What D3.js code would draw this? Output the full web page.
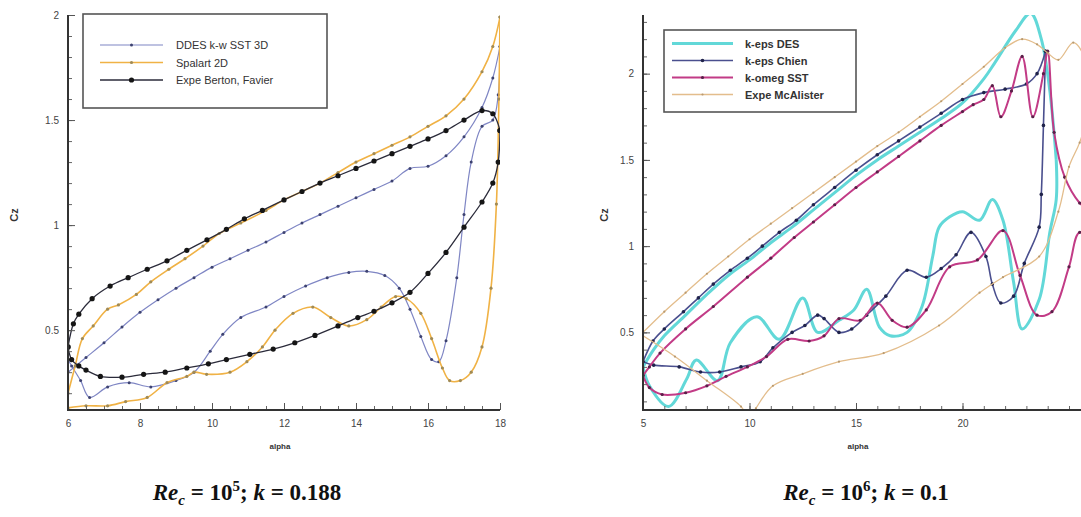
<!DOCTYPE html>
<html>
<head>
<meta charset="utf-8">
<script src="https://cdn.jsdelivr.net/npm/d3@7/dist/d3.min.js"></script>
<style>
  body { margin: 0; background: #fff; }
  svg { display: block; font-family: "Liberation Sans", Arial, sans-serif; }
</style>
</head>
<body>
<svg id="chart" width="1081" height="517"></svg>
<script>
// ---- left panel : Re = 1e5, k = 0.188 ----
const ddesUp = [[6,0.30],[6.5,0.37],[7,0.44],[7.5,0.515],[8,0.585],[8.5,0.645],[9,0.70],[9.5,0.75],[10,0.80],[10.5,0.84],[11,0.88],[11.5,0.92],[12,0.965],[12.5,1.01],[13,1.05],[13.5,1.09],[14,1.13],[14.5,1.17],[15,1.21],[15.5,1.27],[16,1.28],[16.5,1.33],[17,1.42],[17.5,1.56],[17.8,1.7],[18,1.85]];
const ddesDown = [[18,1.85],[17.95,1.62],[17.8,1.5],[17.5,1.47],[17.2,1.3],[17,1.05],[16.8,0.75],[16.5,0.45],[16.3,0.35],[16.1,0.36],[15.8,0.47],[15.5,0.6],[15.2,0.7],[14.8,0.76],[14.3,0.78],[13.8,0.775],[13.2,0.75],[12.6,0.71],[12,0.66],[11.5,0.61],[10.8,0.56],[10.3,0.48],[9.95,0.40],[9.5,0.30],[9,0.26],[8.3,0.23],[7.7,0.25],[7.1,0.23],[6.6,0.18],[6.35,0.26],[6.1,0.33],[6,0.36]];
const spalartUp = [[6,0.2],[6.2,0.33],[6.4,0.46],[6.7,0.52],[7.1,0.60],[7.4,0.62],[7.9,0.67],[8.3,0.73],[8.8,0.79],[9.25,0.84],[9.75,0.90],[10.2,0.96],[10.8,1.01],[11.5,1.07],[12,1.12],[12.5,1.16],[13,1.2],[13.5,1.25],[14,1.3],[14.5,1.34],[15,1.38],[15.5,1.42],[16,1.47],[16.5,1.52],[17,1.6],[17.5,1.73],[17.8,1.85],[18,1.99]];
const spalartDown = [[18,1.99],[17.97,1.6],[17.9,1.1],[17.75,0.7],[17.5,0.42],[17.2,0.3],[16.9,0.26],[16.6,0.26],[16.4,0.32],[16.1,0.46],[15.8,0.58],[15.4,0.65],[15.1,0.66],[14.7,0.61],[14.3,0.55],[13.8,0.52],[13.3,0.56],[12.8,0.61],[12.25,0.58],[11.75,0.5],[11.4,0.42],[10.97,0.35],[10.5,0.30],[9.85,0.29],[9.5,0.30],[9.3,0.28],[8.75,0.25],[8.2,0.18],[7.6,0.16],[7.1,0.14],[6.5,0.14],[6,0.13]];
const bertonUp = [[6,0.42],[6.15,0.53],[6.3,0.576],[6.67,0.65],[7.17,0.71],[7.67,0.75],[8.2,0.79],[8.75,0.83],[9.3,0.88],[9.86,0.93],[10.4,0.98],[10.9,1.03],[11.4,1.07],[12,1.12],[12.5,1.16],[13,1.2],[13.5,1.235],[14,1.27],[14.5,1.305],[15,1.34],[15.5,1.375],[16,1.41],[16.5,1.45],[17,1.5],[17.5,1.545],[17.8,1.53],[18,1.45]];
const bertonDown = [[18,1.45],[17.95,1.3],[17.8,1.2],[17.5,1.11],[17,0.99],[16.5,0.87],[16,0.77],[15.5,0.68],[15,0.63],[14.5,0.59],[14.05,0.56],[13.5,0.52],[12.86,0.475],[12.3,0.44],[11.7,0.41],[11.05,0.385],[10.4,0.36],[9.9,0.34],[9.3,0.32],[8.7,0.30],[8.1,0.29],[7.5,0.276],[6.9,0.28],[6.5,0.31],[6.3,0.33],[6.1,0.36],[6,0.42]];

// ---- right panel : Re = 1e6, k = 0.1 ----
const desUp = [[5,0.3],[5.5,0.4],[6,0.48],[7,0.6],[8,0.72],[9,0.83],[10,0.92],[11,1.02],[12,1.11],[13,1.21],[14,1.31],[15,1.41],[16,1.5],[17,1.58],[18,1.66],[19,1.74],[20,1.83],[21,1.97],[21.5,2.06],[22.5,2.25],[23.2,2.35],[23.7,2.2],[24.1,1.9],[24.4,1.5]];
const desDown = [[24.4,1.5],[24.4,1.27],[24.1,1.08],[23.6,0.69],[22.8,0.52],[22.4,0.79],[21.9,1.15],[21.4,1.27],[20.8,1.15],[20,1.2],[19.4,1.17],[18.9,1.11],[18.6,0.94],[18.1,0.65],[17.4,0.5],[16.6,0.48],[16.1,0.53],[15.5,0.75],[14.9,0.63],[14.2,0.57],[13.2,0.5],[12.5,0.70],[11.4,0.46],[10.35,0.59],[9.1,0.44],[8.5,0.22],[7.5,0.34],[7.05,0.23],[6.2,0.07],[5.3,0.19],[5,0.3]];
const chienUp = [[5,0.33],[5.47,0.45],[6,0.52],[6.9,0.62],[7.6,0.7],[8.3,0.78],[9.1,0.86],[9.9,0.93],[10.6,1.0],[11.4,1.08],[12.2,1.15],[13,1.24],[14,1.34],[15,1.44],[16,1.53],[17,1.61],[18,1.69],[19,1.77],[20,1.85],[21,1.89],[22,1.91],[23,1.94],[23.5,2.0],[23.9,2.13]];
const chienDown = [[23.9,2.13],[23.8,1.7],[23.7,1.3],[23.6,1.11],[22.9,0.9],[22.4,0.71],[21.8,0.67],[21.4,0.78],[21.1,0.94],[20.4,1.08],[19.7,0.95],[19,0.87],[18.3,0.82],[17.4,0.86],[16.4,0.71],[15.5,0.6],[14.8,0.52],[14.2,0.5],[13.5,0.58],[13.2,0.6],[12.6,0.54],[12,0.5],[11.1,0.41],[10.5,0.33],[9.6,0.30],[8.6,0.27],[7.7,0.27],[6.7,0.30],[5.5,0.31],[5,0.33]];
const sstUp = [[5,0.25],[5.3,0.3],[5.8,0.38],[7,0.52],[8.3,0.65],[9.9,0.82],[11,0.93],[12.1,1.05],[13,1.14],[14,1.24],[15,1.34],[16,1.43],[17,1.52],[18,1.61],[19,1.7],[20,1.78],[20.5,1.82],[21,1.85],[21.4,1.93],[21.8,1.75],[22.3,1.9],[22.8,2.1],[23.3,1.75],[23.8,2.0],[24,2.13],[24.3,1.66],[24.8,1.4],[25.5,1.25],[26,1.2],[26.3,1.0]];
const sstDown = [[26.3,1.0],[25.5,1.08],[25,0.88],[24.2,0.62],[23.5,0.6],[22.7,0.83],[21.9,1.09],[20.7,0.92],[19.4,0.88],[18.3,0.63],[17.4,0.53],[16.7,0.57],[16,0.67],[15.2,0.57],[14.2,0.58],[13.5,0.48],[12.8,0.45],[11.8,0.46],[10.8,0.36],[9.9,0.30],[8.9,0.245],[8,0.19],[7,0.15],[5.9,0.14],[5.3,0.18],[5,0.25]];
const mcalisterUp = [[5,0.5],[6,0.62],[7,0.73],[8,0.84],[9,0.94],[10,1.04],[11,1.13],[12,1.22],[13,1.31],[14,1.4],[15,1.49],[16,1.58],[17,1.66],[18,1.75],[19,1.84],[20,1.94],[21,2.04],[22,2.15],[22.8,2.2],[23.5,2.17],[24,2.12],[24.5,2.08],[25.2,2.18],[25.7,2.1],[26,1.8]];
const mcalisterDown = [[26,1.8],[25.5,1.6],[25,1.46],[24.5,1.2],[23.6,0.94],[21.9,0.82],[20.8,0.73],[18.9,0.54],[16.3,0.38],[14.2,0.33],[12.5,0.26],[11.1,0.19],[10.3,0.06],[10,0.0],[9.6,0.07],[8,0.22],[6.5,0.36],[5,0.48]];

const leftTicksX = [6, 8, 10, 12, 14, 16, 18];
const leftTicksY = [0.5, 1, 1.5, 2];
const rightTicksX = [5, 10, 15, 20];
const rightTicksY = [0.5, 1, 1.5, 2];

const svg = d3.select('#chart');

function drawPanel(cfg) {
  let x = d3.scaleLinear().domain(cfg.xDomain).range(cfg.xRange);
  let y = d3.scaleLinear().domain(cfg.yDomain).range([410, 15]);
  let g = svg.append('g');

  g.append('clipPath').attr('id', cfg.id + 'clip')
    .append('rect')
      .attr('x', cfg.xRange[0]).attr('y', 15)
      .attr('width', Math.min(cfg.xRange[1], 1081) - cfg.xRange[0])
      .attr('height', 395);

  let plot = g.append('g').attr('clip-path', 'url(#' + cfg.id + 'clip)');
  let line = d3.line()
    .x(d => x(d[0]))
    .y(d => y(d[1]))
    .curve(d3.curveCatmullRom.alpha(0.5));

  cfg.series.forEach(s => {
    [s.up, s.down].forEach(pts => {
      plot.append('path')
        .attr('d', line(pts))
        .attr('fill', 'none')
        .attr('stroke', s.color)
        .attr('stroke-width', s.width)
        .attr('stroke-opacity', s.opacity || 1);
      if (s.marker > 0) {
        plot.selectAll(null)
          .data(pts)
          .enter()
          .append('circle')
            .attr('cx', d => x(d[0]))
            .attr('cy', d => y(d[1]))
            .attr('r', s.marker)
            .attr('fill', s.markerColor);
      }
    });
  });

  // axes, ticks pointing inside
  let xMax = Math.min(cfg.xRange[1], 1081);
  let xAxis = d3.axisBottom(x)
    .tickValues(cfg.minorX)
    .tickSize(-4)
    .tickFormat('');
  let gx = g.append('g').attr('transform', 'translate(0,410)').call(xAxis);
  gx.select('.domain').remove();
  gx.selectAll('line').attr('stroke', '#666');

  let xMajor = d3.axisBottom(x)
    .tickValues(cfg.ticksX)
    .tickSize(-7)
    .tickPadding(10)
    .tickFormat(d3.format('d'));
  let gx2 = g.append('g').attr('transform', 'translate(0,410)').call(xMajor);
  gx2.select('.domain').remove();
  gx2.selectAll('line').attr('stroke', '#555');
  gx2.selectAll('text').attr('font-size', 10).attr('fill', '#444');

  let yAxis = d3.axisLeft(y)
    .tickValues(cfg.minorY)
    .tickSize(-4)
    .tickFormat('');
  let gy = g.append('g').attr('transform', 'translate(' + cfg.xRange[0] + ',0)').call(yAxis);
  gy.select('.domain').remove();
  gy.selectAll('line').attr('stroke', '#666');

  let yMajor = d3.axisLeft(y)
    .tickValues(cfg.ticksY)
    .tickSize(-7)
    .tickPadding(9)
    .tickFormat(d => d);
  let gy2 = g.append('g').attr('transform', 'translate(' + cfg.xRange[0] + ',0)').call(yMajor);
  gy2.select('.domain').remove();
  gy2.selectAll('line').attr('stroke', '#555');
  gy2.selectAll('text').attr('font-size', 10).attr('fill', '#444');

  g.append('line')
    .attr('x1', cfg.xRange[0]).attr('x2', xMax)
    .attr('y1', 410).attr('y2', 410)
    .attr('stroke', '#333').attr('stroke-width', 2);
  g.append('line')
    .attr('x1', cfg.xRange[0]).attr('x2', cfg.xRange[0])
    .attr('y1', 15).attr('y2', 411)
    .attr('stroke', '#333').attr('stroke-width', 2);

  // axis titles
  g.append('text')
    .attr('x', cfg.xLabelX).attr('y', 449)
    .attr('text-anchor', 'middle')
    .attr('font-size', 8).attr('font-weight', 'bold').attr('fill', '#333')
    .text('alpha');
  g.append('text')
    .attr('transform', 'translate(' + cfg.yLabelX + ',215) rotate(-90)')
    .attr('text-anchor', 'middle')
    .attr('font-size', 11).attr('font-weight', 'bold').attr('fill', '#333')
    .text('Cz');

  // legend
  let lg = cfg.legend;
  g.append('rect')
    .attr('x', lg.x).attr('y', lg.y)
    .attr('width', lg.w).attr('height', lg.h)
    .attr('fill', '#fff')
    .attr('stroke', '#555').attr('stroke-width', 1.6);
  cfg.series.forEach((s, i) => {
    let ly = lg.y + lg.first + i * lg.step;
    g.append('line')
      .attr('x1', lg.lineX0).attr('x2', lg.lineX1)
      .attr('y1', ly).attr('y2', ly)
      .attr('stroke', s.color).attr('stroke-width', s.width)
      .attr('stroke-opacity', s.opacity || 1);
    if (s.marker > 0) {
      g.append('circle')
        .attr('cx', (lg.lineX0 + lg.lineX1) / 2).attr('cy', ly)
        .attr('r', s.marker).attr('fill', s.markerColor);
    }
    g.append('text')
      .attr('x', lg.textX).attr('y', ly + 4)
      .attr('font-size', 11).attr('fill', '#333')
      .attr('font-weight', lg.bold ? 'bold' : 'normal')
      .text(s.name);
  });

  // caption
  let cap = g.append('text')
    .attr('x', cfg.capX).attr('y', 500)
    .attr('text-anchor', 'middle')
    .attr('font-family', '"Liberation Serif", "DejaVu Serif", serif')
    .attr('font-size', 23).attr('font-weight', 'bold').attr('fill', '#111');
  cap.append('tspan').attr('font-style', 'italic').text('Re');
  cap.append('tspan').attr('font-style', 'italic').attr('font-size', 15).attr('dy', 5).text('c');
  cap.append('tspan').attr('dy', -5).text(' = 10');
  cap.append('tspan').attr('font-size', 15).attr('dy', -9).text(cfg.exp);
  cap.append('tspan').attr('dy', 9).text('; ');
  cap.append('tspan').attr('font-style', 'italic').text('k');
  cap.append('tspan').text(' = ' + cfg.k);
}

drawPanel({
  id: 'left',
  xDomain: [6, 18], xRange: [68, 500],
  yDomain: [0.12, 2],
  ticksX: leftTicksX, ticksY: leftTicksY,
  minorX: d3.range(6.5, 18, 0.5), minorY: d3.range(0.2, 2, 0.1),
  xLabelX: 280, yLabelX: 18,
  exp: '5', k: '0.188', capX: 247,
  legend: {x: 83, y: 14, w: 244, h: 94, first: 31, step: 17.5, lineX0: 100, lineX1: 163, textX: 176, bold: false},
  series: [
    {name: 'DDES k-w SST 3D', up: ddesUp, down: ddesDown, color: '#7f86c4', width: 1.2, marker: 1.5, markerColor: '#3d4270'},
    {name: 'Spalart 2D', up: spalartUp, down: spalartDown, color: '#f0b245', width: 1.6, marker: 1.6, markerColor: '#a08a55'},
    {name: 'Expe Berton, Favier', up: bertonUp, down: bertonDown, color: '#2b2b3a', width: 1.3, marker: 2.6, markerColor: '#151515'}
  ]
});

drawPanel({
  id: 'right',
  xDomain: [5, 27], xRange: [643, 1111.6],
  yDomain: [0.05, 2.34],
  ticksX: rightTicksX, ticksY: rightTicksY,
  minorX: d3.range(6, 27, 1), minorY: d3.range(0.1, 2.34, 0.1),
  xLabelX: 858, yLabelX: 608,
  exp: '6', k: '0.1', capX: 866,
  legend: {x: 664, y: 30, w: 192, h: 82, first: 13.5, step: 17, lineX0: 672, lineX1: 733, textX: 745, bold: true},
  series: [
    {name: 'k-eps DES', up: desUp, down: desDown, color: '#62d8d8', width: 3, marker: 0},
    {name: 'k-eps Chien', up: chienUp, down: chienDown, color: '#4a4f8e', width: 1.6, marker: 1.8, markerColor: '#20234a'},
    {name: 'k-omeg SST', up: sstUp, down: sstDown, color: '#c23b86', width: 2, marker: 1.6, markerColor: '#5a1f48'},
    {name: 'Expe McAlister', up: mcalisterUp, down: mcalisterDown, color: '#e3bd8c', width: 1.3, marker: 1.1, markerColor: '#b89a70'}
  ]
});
</script>
</body>
</html>
